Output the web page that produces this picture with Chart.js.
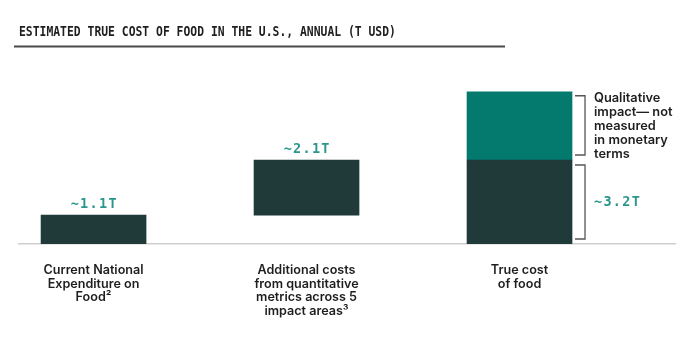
<!DOCTYPE html>
<html>
<head>
<meta charset="utf-8">
<script src="https://cdn.jsdelivr.net/npm/chart.js@4.4.1/dist/chart.umd.min.js"></script>
<style>
  body { margin: 0; background: #fff; }
</style>
</head>
<body>
<canvas id="chart" width="700" height="353"></canvas>
<script>
// categories and values (trillion USD)
const categories = [
    ["Current National", "Expenditure on", "Food²"],
    ["Additional costs", "from quantitative", "metrics across 5", "impact areas³"],
    ["True cost", "of food"]
];
const barStart = [0, 1.1, 0];
const barEnd = [1.1, 3.2, 3.2];
const qualitativeStart = [null, null, 3.2];
const qualitativeEnd = [null, null, 5.8];   // not measured, drawn size only
const valueLabels = ["~1.1T", "~2.1T", "~3.2T"];
const qualitativeNote = ["Qualitative", "impact— not", "measured", "in monetary", "terms"];
const titleText = "ESTIMATED TRUE COST OF FOOD IN THE U.S., ANNUAL (T USD)";

const darkColor = "#203a3a";
const tealColor = "#04796e";
const labelTeal = "#2a968c";
const textFont = "600 12.8px Inter, sans-serif";

const annotations = {
    id: "annotations",
    afterDatasetsDraw(chart) {
        const ctx = chart.ctx;
        const y = chart.scales.y;
        const bars = chart.getDatasetMeta(0).data;
        ctx.save();

        // title, condensed monospace look
        ctx.save();
        ctx.font = "bold 14.6px 'DejaVu Sans Mono', monospace";
        ctx.fillStyle = "#1e1e1e";
        ctx.textBaseline = "middle";
        ctx.textAlign = "left";
        ctx.translate(19, 32);
        ctx.scale(0.78, 1);
        ctx.fillText(titleText, 0, 0);
        ctx.restore();
        ctx.fillStyle = "#4a4a4a";
        ctx.fillRect(14, 45.5, 491, 2);

        ctx.font = "bold 13.5px 'DejaVu Sans Mono', monospace";
        ctx.letterSpacing = "1.3px";
        ctx.fillStyle = labelTeal;
        ctx.textAlign = "center";
        ctx.textBaseline = "middle";
        // labels above the first two bars
        for (let i = 0; i < 2; i++) {
            ctx.fillText(valueLabels[i], bars[i].x + 0.7, bars[i].y - 11);
        }

        // brackets next to the third bar
        const bar = bars[2];
        const bx = bar.x + bar.width / 2;
        ctx.strokeStyle = "#555";
        ctx.lineWidth = 1.3;
        function bracket(top, bottom) {
            ctx.beginPath();
            ctx.moveTo(bx + 3, top);
            ctx.lineTo(bx + 13, top);
            ctx.lineTo(bx + 13, bottom);
            ctx.lineTo(bx + 3, bottom);
            ctx.stroke();
        }
        const qTop = y.getPixelForValue(qualitativeEnd[2]);
        const qBot = y.getPixelForValue(qualitativeStart[2]);
        const dBot = y.getPixelForValue(barStart[2]);
        bracket(qTop + 4, qBot - 5);
        bracket(qBot + 5, dBot - 5);

        ctx.textAlign = "left";
        ctx.fillText(valueLabels[2], bx + 22, (qBot + dBot) / 2);
        ctx.letterSpacing = "0px";

        ctx.font = textFont;
        ctx.fillStyle = "#1e1e1e";
        qualitativeNote.forEach((line, i) => {
            ctx.fillText(line, bx + 22, qTop + 6 + i * 14);
        });
        ctx.restore();
    }
};

new Chart(document.getElementById("chart"), {
    type: "bar",
    data: {
        datasets: [{
            data: categories.map((c, i) => ({ x: i, y: [barStart[i], barEnd[i]] })),
            backgroundColor: darkColor,
            barThickness: 105,
            grouped: false,
            order: 1
        }, {
            data: categories.map((c, i) => ({ x: i, y: qualitativeStart[i] === null ? null : [qualitativeStart[i], qualitativeEnd[i]] })),
            backgroundColor: tealColor,
            barThickness: 105,
            grouped: false,
            order: 2
        }]
    },
    options: {
        responsive: false,
        animation: false,
        layout: { padding: { left: 19, right: 25, top: 86.5, bottom: 29 } },
        plugins: {
            legend: { display: false },
            tooltip: { enabled: false }
        },
        scales: {
            x: {
                type: "linear",
                offset: false,
                min: -0.35,
                max: 2.73,
                afterBuildTicks: axis => { axis.ticks = categories.map((c, i) => ({ value: i })); },
                afterFit: axis => { axis.height = 80; },
                grid: { display: false },
                border: { display: true, color: "#cfcfcf", width: 1.5 },
                ticks: {
                    autoSkip: false,
                    maxRotation: 0,
                    padding: 11,
                    color: "#1e1e1e",
                    font: { family: "Inter", size: 12.6, weight: "600", lineHeight: 1.1 },
                    callback: v => categories[v]
                }
            },
            y: {
                display: false,
                min: 0,
                max: 6
            }
        }
    },
    plugins: [annotations]
});
</script>
</body>
</html>
